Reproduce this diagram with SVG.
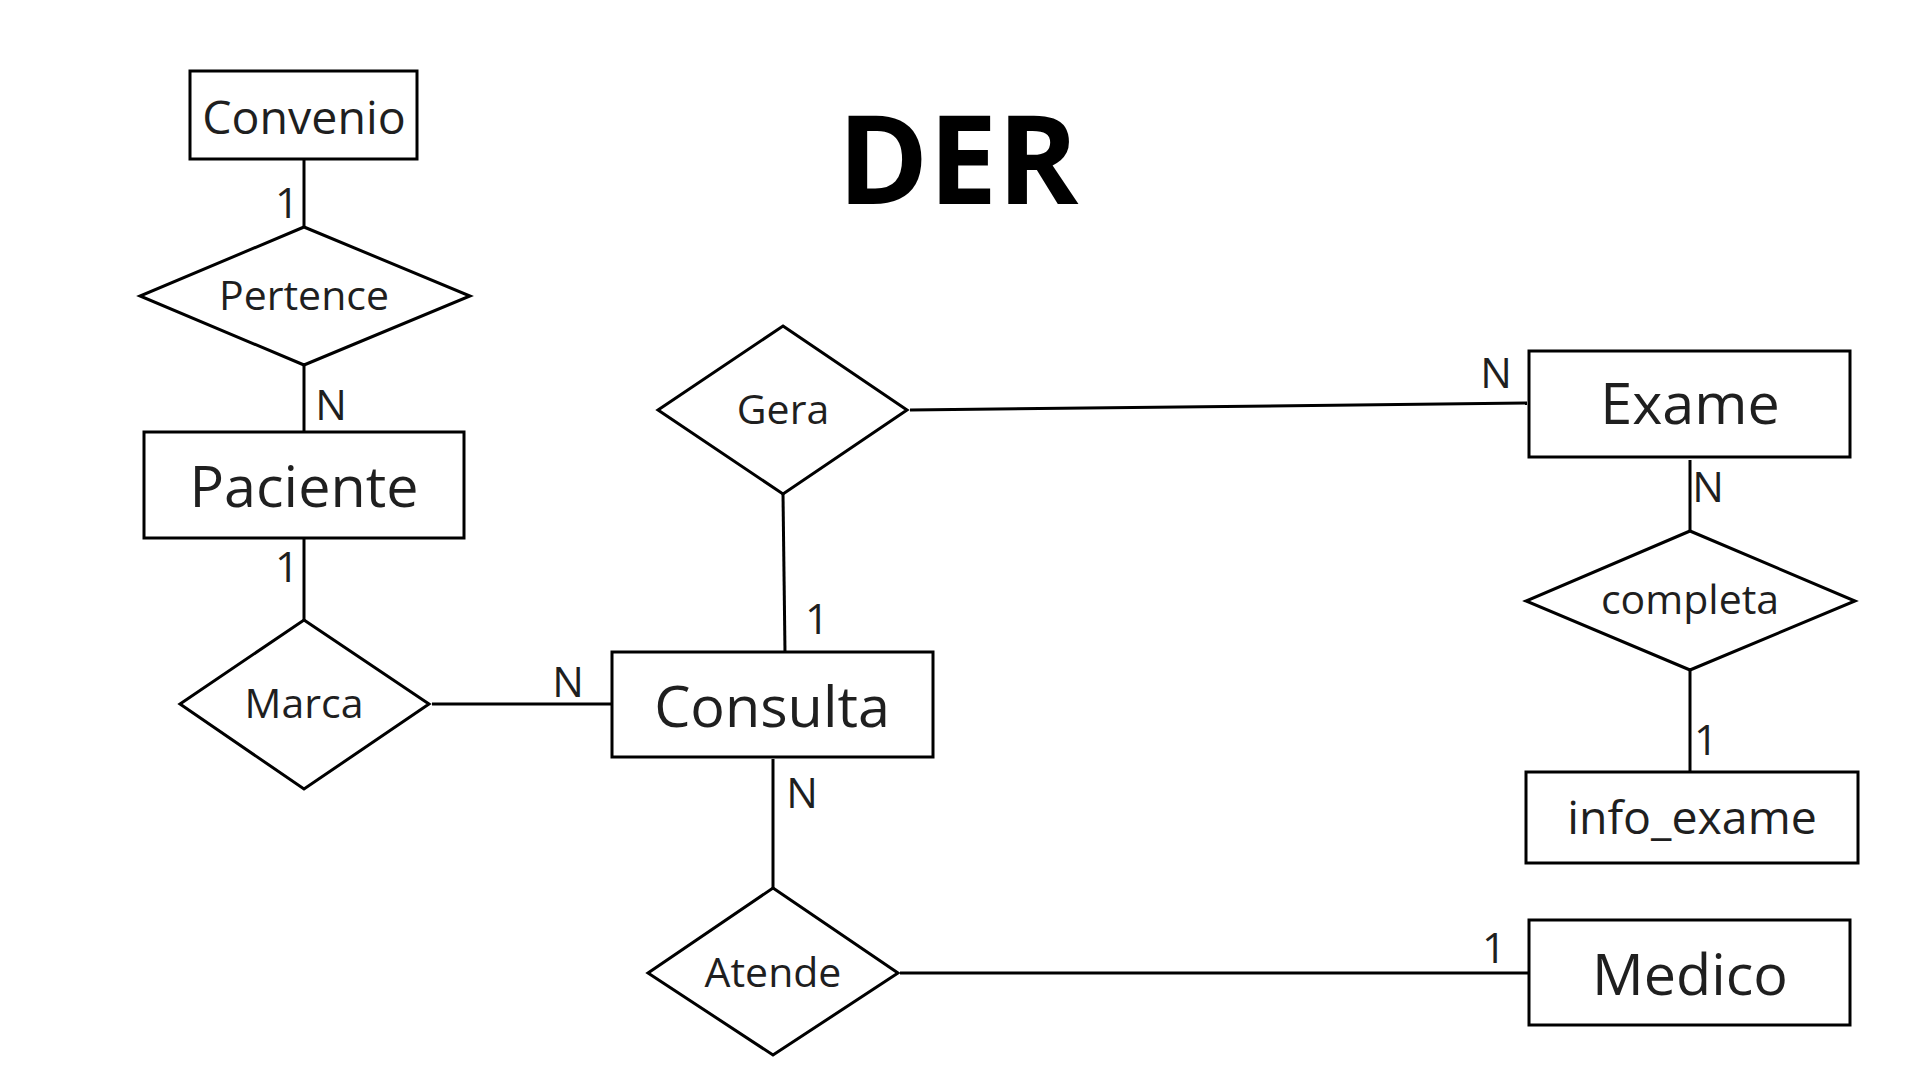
<svg xmlns="http://www.w3.org/2000/svg" width="1920" height="1080" viewBox="0 0 1920 1080">
<style>
.ent{fill:#fff;stroke:#000;stroke-width:3}
.rel{fill:#fff;stroke:#000;stroke-width:3;stroke-linejoin:miter}
.con{stroke:#000;stroke-width:3;fill:none}
text{font-family:"Open Sans","Noto Sans","Liberation Sans",sans-serif;fill:#1f1f1f}
.big{font-size:57.5px;text-anchor:middle}
.mid{font-size:46.5px;text-anchor:middle}
.rl{font-size:41px;text-anchor:middle}
.card{font-size:42px;text-anchor:middle}
.title{font-size:123px;font-weight:700;fill:#000;text-anchor:middle}
</style>
<rect width="1920" height="1080" fill="#fff"/>
<text class="title" x="958" y="204">DER</text>
<g id="connectors">
<line class="con" x1="304" y1="159" x2="304" y2="227"/>
<line class="con" x1="304" y1="365" x2="304" y2="432"/>
<line class="con" x1="304" y1="538" x2="304" y2="620"/>
<line class="con" x1="432" y1="704" x2="612" y2="704"/>
<line class="con" x1="783" y1="494" x2="785" y2="652"/>
<line class="con" x1="910" y1="410" x2="1527" y2="403"/>
<line class="con" x1="1690" y1="460" x2="1690" y2="531"/>
<line class="con" x1="1690" y1="670" x2="1690" y2="771"/>
<line class="con" x1="773" y1="759" x2="773" y2="888"/>
<line class="con" x1="900" y1="973" x2="1529" y2="973"/>
<text class="card" x="287" y="218">1</text>
<text class="card" x="331" y="420">N</text>
<text class="card" x="287" y="582">1</text>
<text class="card" x="568" y="697">N</text>
<text class="card" x="817" y="634">1</text>
<text class="card" x="1496" y="388">N</text>
<text class="card" x="1708" y="502">N</text>
<text class="card" x="1706" y="755">1</text>
<text class="card" x="802" y="808">N</text>
<text class="card" x="1494" y="963">1</text>
</g>
<g id="Convenio"><rect class="ent" x="190" y="71" width="227" height="88"/><text class="mid" x="304" y="134">Convenio</text></g>
<g id="Pertence"><polygon class="rel" points="304,227 470,296 304,365 140,296"/><text class="rl" x="304" y="310">Pertence</text></g>
<g id="Paciente"><rect class="ent" x="144" y="432" width="320" height="106"/><text class="big" x="304" y="507">Paciente</text></g>
<g id="Marca"><polygon class="rel" points="304,620 429,704 304,789 180,704"/><text class="rl" x="304" y="718">Marca</text></g>
<g id="Consulta"><rect class="ent" x="612" y="652" width="321" height="105"/><text class="big" x="772" y="727">Consulta</text></g>
<g id="Gera"><polygon class="rel" points="783,326 907,410 783,494 658,410"/><text class="rl" x="783" y="424">Gera</text></g>
<g id="Exame"><rect class="ent" x="1529" y="351" width="321" height="106"/><text class="big" x="1690" y="424">Exame</text></g>
<g id="completa"><polygon class="rel" points="1690,531 1855,601 1690,670 1526,601"/><text class="rl" x="1690" y="614">completa</text></g>
<g id="info_exame"><rect class="ent" x="1526" y="772" width="332" height="91"/><text class="mid" x="1692" y="834">info_exame</text></g>
<g id="Atende"><polygon class="rel" points="773,888 898,973 773,1055 648,973"/><text class="rl" x="773" y="987">Atende</text></g>
<g id="Medico"><rect class="ent" x="1529" y="920" width="321" height="105"/><text class="big" x="1690" y="995">Medico</text></g>
</svg>
